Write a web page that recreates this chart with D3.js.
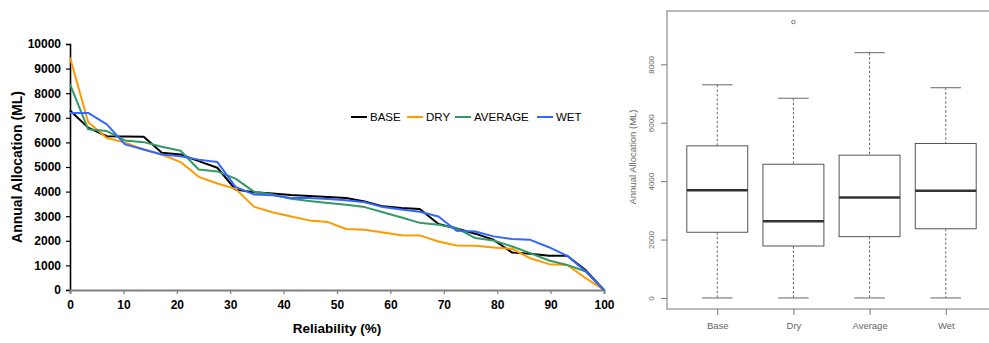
<!DOCTYPE html>
<html>
<head>
<meta charset="utf-8">
<script src="https://cdn.jsdelivr.net/npm/d3@7"></script>
<style>
  body { margin: 0; background: #fff; }
  svg { display: block; font-family: "Liberation Sans", Arial, sans-serif; }
</style>
</head>
<body>
<svg id="chart" width="989" height="343"></svg>
<script>
// reliability curve data (left panel)
const reliability = [0, 3.4, 6.9, 10.3, 13.8, 17.2, 20.7, 24.1, 27.6, 31.0, 34.5, 37.9, 41.4, 44.8, 48.3,
  51.7, 55.2, 58.6, 62.1, 65.5, 69.0, 72.4, 75.9, 79.3, 82.8, 86.2, 89.7, 93.1, 96.6, 100];
const base = [7300, 6600, 6250, 6240, 6230, 5580, 5510, 5240, 4970, 4080, 3970, 3920, 3860, 3820, 3780,
  3740, 3600, 3400, 3330, 3290, 2680, 2500, 2290, 2040, 1520, 1470, 1390, 1390, 800, 0];
const dry = [9450, 6830, 6180, 5990, 5710, 5510, 5200, 4600, 4330, 4110, 3380, 3160, 2990, 2830, 2760,
  2480, 2450, 2340, 2230, 2220, 1970, 1810, 1800, 1730, 1670, 1290, 1050, 1020, 480, 0];
const average = [8370, 6530, 6460, 6080, 6010, 5820, 5660, 4900, 4820, 4530, 3990, 3880, 3710, 3620, 3540,
  3470, 3370, 3160, 2950, 2730, 2650, 2520, 2110, 2010, 1770, 1500, 1200, 1020, 750, 0];
const wet = [7200, 7200, 6730, 5920, 5710, 5510, 5440, 5300, 5200, 4190, 3880, 3850, 3740, 3740, 3700,
  3650, 3570, 3370, 3270, 3180, 2990, 2410, 2380, 2180, 2070, 2040, 1740, 1390, 750, 0];
const seriesNames = ["BASE", "DRY", "AVERAGE", "WET"];
const seriesColors = ["#000000", "#ff9900", "#339966", "#3366ff"];
const yTicksLeft = [0, 1000, 2000, 3000, 4000, 5000, 6000, 7000, 8000, 9000, 10000];
const xTicksLeft = [0, 10, 20, 30, 40, 50, 60, 70, 80, 90, 100];

// boxplot stats (right panel)
const boxCategories = ["Base", "Dry", "Average", "Wet"];
const boxLow = [0, 0, 0, 0];
const boxQ1 = [2250, 1780, 2100, 2370];
const boxMedian = [3690, 2630, 3440, 3670];
const boxQ3 = [5210, 4580, 4890, 5290];
const boxHigh = [7300, 6840, 8400, 7200];
const boxOutliers = [[], [9450], [], []];
const yTicksBox = [0, 2000, 4000, 6000, 8000];

const svg = d3.select("#chart");

// ---------- left panel ----------
const x = d3.scaleLinear().domain([0, 100]).range([70, 604]);
const y = d3.scaleLinear().domain([0, 10000]).range([290, 44]);

const left = svg.append("g");

const xAxis = left.append("g")
  .attr("transform", `translate(0,${y(0)})`)
  .call(d3.axisBottom(x).tickValues(xTicksLeft).tickSize(4).tickPadding(6).tickFormat(d3.format("d")));
xAxis.select(".domain").attr("stroke", "#808080").attr("stroke-width", 2);
xAxis.selectAll(".tick line").attr("stroke", "#808080").attr("stroke-width", 1.2);
xAxis.selectAll("text").attr("font-size", 12).attr("font-weight", "bold")
  .attr("fill", "#000").attr("font-family", "Liberation Sans, Arial, sans-serif");

const yAxis = left.append("g")
  .attr("transform", `translate(${x(0)},0)`)
  .call(d3.axisLeft(y).tickValues(yTicksLeft).tickSize(4).tickPadding(5).tickFormat(d3.format("d")));
yAxis.select(".domain").attr("stroke", "#000").attr("stroke-width", 1.6);
yAxis.selectAll(".tick line").attr("stroke", "#000").attr("stroke-width", 1.2);
yAxis.selectAll("text").attr("font-size", 12).attr("font-weight", "bold")
  .attr("fill", "#000").attr("font-family", "Liberation Sans, Arial, sans-serif");
// keep the x axis line on top of the y axis foot
xAxis.raise();

const line = d3.line()
  .x((d, i) => x(reliability[i]))
  .y(d => y(d));

const series = [base, dry, average, wet];
left.selectAll("path.series")
  .data(series)
  .join("path")
  .attr("class", "series")
  .attr("fill", "none")
  .attr("stroke", (d, i) => seriesColors[i])
  .attr("stroke-width", 2)
  .attr("stroke-linejoin", "round")
  .attr("d", line);

// legend
const legendX = [351, 407, 455, 537];
const legend = left.selectAll("g.legend")
  .data(seriesNames)
  .join("g")
  .attr("class", "legend")
  .attr("transform", (d, i) => `translate(${legendX[i]},117)`);
legend.append("line")
  .attr("x1", 0).attr("x2", 16)
  .attr("stroke", (d, i) => seriesColors[i])
  .attr("stroke-width", 2);
legend.append("text")
  .attr("x", 19).attr("dy", "0.36em")
  .attr("font-size", 11.5)
  .attr("fill", "#000")
  .text(d => d);

left.append("text")
  .attr("x", 337).attr("y", 333)
  .attr("text-anchor", "middle")
  .attr("font-size", 13.5).attr("font-weight", "bold")
  .text("Reliability (%)");

left.append("text")
  .attr("transform", "translate(22,167) rotate(-90)")
  .attr("text-anchor", "middle")
  .attr("font-size", 14).attr("font-weight", "bold")
  .text("Annual Allocation (ML)");

// ---------- right panel: boxplot ----------
const allBox = boxLow.concat(boxHigh, boxOutliers.flat());
const lo = d3.min(allBox), hi = d3.max(allBox);
const pad = (hi - lo) * 0.04;
const yb = d3.scaleLinear().domain([lo - pad, hi + pad]).range([309, 11]);
const xb = d3.scaleLinear().domain([0.34, 4.66]).range([667, 996]);

const right = svg.append("g");
const gray = "#666";

right.append("rect")
  .attr("x", xb(0.34)).attr("y", yb.range()[1])
  .attr("width", xb(4.66) - xb(0.34))
  .attr("height", yb.range()[0] - yb.range()[1])
  .attr("fill", "none").attr("stroke", "#777").attr("stroke-width", 1);

// y ticks
const yb_axis = right.append("g")
  .attr("transform", `translate(${xb(0.34)},0)`)
  .call(d3.axisLeft(yb).tickValues(yTicksBox).tickSize(6).tickFormat(d3.format("d")));
yb_axis.select(".domain").remove();
yb_axis.selectAll(".tick line").attr("stroke", "#777");
yb_axis.selectAll("text")
  .attr("x", 0).attr("dy", 0)
  .attr("transform", "translate(-13,0) rotate(-90)")
  .attr("text-anchor", "middle")
  .attr("font-size", 8).attr("fill", gray)
  .attr("font-family", "Liberation Sans, Arial, sans-serif");

// x ticks
const xb_axis = right.append("g")
  .attr("transform", `translate(0,${yb.range()[0]})`)
  .call(d3.axisBottom(xb).tickValues([1, 2, 3, 4]).tickSize(6).tickPadding(7)
    .tickFormat((d) => boxCategories[d - 1]));
xb_axis.select(".domain").remove();
xb_axis.selectAll(".tick line").attr("stroke", "#777");
xb_axis.selectAll("text").attr("font-size", 9.5).attr("fill", gray)
  .attr("font-family", "Liberation Sans, Arial, sans-serif");

right.append("text")
  .attr("transform", "translate(636,157) rotate(-90)")
  .attr("text-anchor", "middle")
  .attr("font-size", 9.5).attr("fill", gray)
  .text("Annual Allocation (ML)");

const boxes = right.selectAll("g.box")
  .data(boxCategories)
  .join("g")
  .attr("class", "box");

boxes.each(function (d, i) {
  const g = d3.select(this);
  const cx = xb(i + 1);
  const hw = (xb(1.4) - xb(1));
  const cw = (xb(1.2) - xb(1));
  // whiskers
  g.append("line").attr("x1", cx).attr("x2", cx)
    .attr("y1", yb(boxHigh[i])).attr("y2", yb(boxQ3[i]))
    .attr("stroke", "#666").attr("stroke-dasharray", "2.5,2");
  g.append("line").attr("x1", cx).attr("x2", cx)
    .attr("y1", yb(boxQ1[i])).attr("y2", yb(boxLow[i]))
    .attr("stroke", "#666").attr("stroke-dasharray", "2.5,2");
  // caps
  [boxHigh[i], boxLow[i]].forEach(v => {
    g.append("line").attr("x1", cx - cw).attr("x2", cx + cw)
      .attr("y1", yb(v)).attr("y2", yb(v))
      .attr("stroke", "#666").attr("stroke-width", 1);
  });
  // box
  g.append("rect")
    .attr("x", cx - hw).attr("width", hw * 2)
    .attr("y", yb(boxQ3[i])).attr("height", yb(boxQ1[i]) - yb(boxQ3[i]))
    .attr("fill", "#fff").attr("stroke", "#555").attr("stroke-width", 1);
  // median
  g.append("line").attr("x1", cx - hw).attr("x2", cx + hw)
    .attr("y1", yb(boxMedian[i])).attr("y2", yb(boxMedian[i]))
    .attr("stroke", "#333").attr("stroke-width", 2.5);
  // outliers
  g.selectAll("circle").data(boxOutliers[i]).join("circle")
    .attr("cx", cx).attr("cy", v => yb(v)).attr("r", 1.8)
    .attr("fill", "none").attr("stroke", "#777");
});
</script>
</body>
</html>
